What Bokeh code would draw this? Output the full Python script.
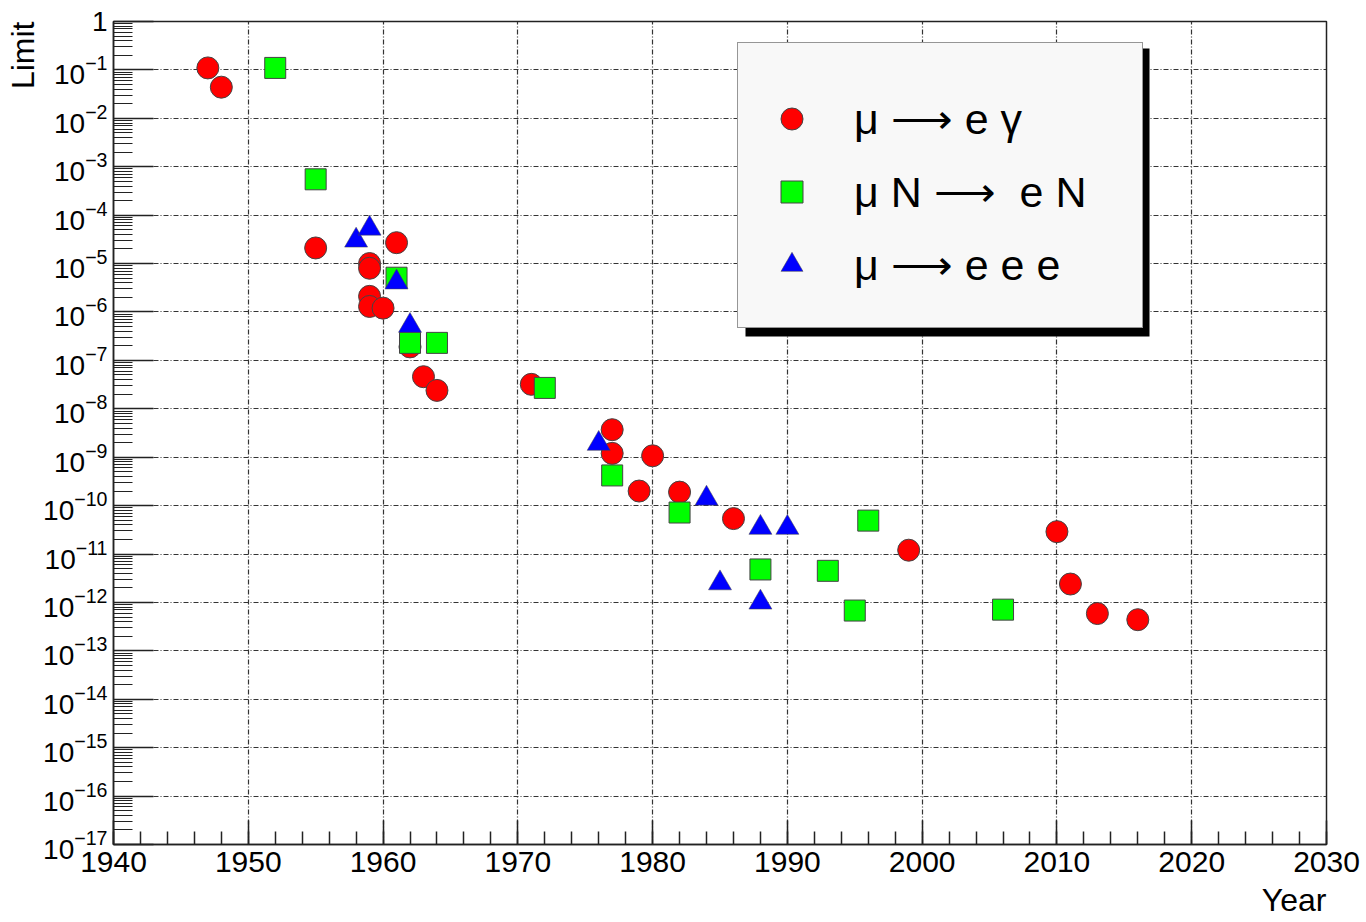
import math
from bokeh.plotting import figure
from bokeh.models import (Range1d, FixedTicker, Legend, LegendItem, Title,
                          BoxAnnotation)
from bokeh.embed import file_html
from bokeh.resources import INLINE

# ---------------- data ----------------
# mu -> e gamma
mueg_year = [1947, 1948, 1955, 1959, 1959, 1959, 1959, 1960, 1961, 1962,
             1963, 1964, 1971, 1977, 1977, 1979, 1980, 1982, 1986, 1999,
             2010, 2011, 2013, 2016]
mueg_limit = [1.1e-1, 4.4e-2, 2.1e-5, 1.0e-5, 8.0e-6, 2.1e-6, 1.3e-6, 1.2e-6,
              2.7e-5, 1.9e-7, 4.6e-8, 2.4e-8, 3.2e-8, 3.7e-9, 1.2e-9, 2.0e-10,
              1.07e-9, 1.9e-10, 5.4e-11, 1.2e-11, 2.9e-11, 2.4e-12, 5.9e-13,
              4.4e-13]

# mu N -> e N
munen_year = [1952, 1955, 1961, 1962, 1964, 1972, 1977, 1982, 1988, 1993,
              1995, 1996, 2006]
munen_limit = [1.1e-1, 5.5e-4, 5.1e-6, 2.3e-7, 2.3e-7, 2.7e-8, 4.2e-10,
               7.2e-11, 4.8e-12, 4.5e-12, 6.8e-13, 4.9e-11, 7.1e-13]

# mu -> e e e
mueee_year = [1958, 1959, 1961, 1962, 1976, 1984, 1985, 1988, 1990, 1988]
mueee_limit = [3.0e-5, 5.3e-5, 4.1e-6, 5.2e-7, 1.9e-9, 1.4e-10, 2.5e-12,
               3.5e-11, 3.5e-11, 1.0e-12]

series_labels = ["μ ⟶ e γ", "μ N ⟶  e N", "μ ⟶ e e e"]

x_ticks = list(range(1940, 2031, 10))
x_minor = list(range(1940, 2031, 2))
y_exps = list(range(0, 18))

# ---------------- layout constants ----------------
FONT = "Liberation Sans"
L, R, T, B = 113, 40, 21, 78
FW, FH = 1213, 823
X0, X1 = 1940, 2030
YLO, YHI = 1e-17, 1.0


def sx2x(dx):
    """screen offset from frame left -> data x"""
    return X0 + dx * (X1 - X0) / FW


def sy2y(dy):
    """screen offset from frame top -> data y (log axis)"""
    return 10 ** (math.log10(YHI) - dy * (math.log10(YHI) - math.log10(YLO)) / FH)


p = figure(frame_width=FW, frame_height=FH, x_range=Range1d(X0, X1),
           y_range=Range1d(YLO, YHI), y_axis_type="log", output_backend="svg",
           toolbar_location=None, min_border_left=L, min_border_right=R,
           min_border_top=T, min_border_bottom=B)
p.background_fill_color = "white"
p.border_fill_color = "white"
p.outline_line_color = "#222222"
p.outline_line_width = 1.5

# x axis
xa = p.xaxis[0]
xa.ticker = FixedTicker(ticks=x_ticks, minor_ticks=x_minor)
xa.major_tick_in = 24
xa.major_tick_out = 0
xa.minor_tick_in = 13
xa.minor_tick_out = 0
xa.major_label_text_font = FONT
xa.major_label_text_font_size = "30px"
xa.major_label_text_color = "black"
xa.major_label_standoff = 7
xa.axis_line_width = 1.5
xa.axis_line_color = "#222222"
xa.major_tick_line_color = "#222222"
xa.minor_tick_line_color = "#222222"
xa.major_tick_line_width = 1.5
xa.minor_tick_line_width = 1.5

# y axis
ya = p.yaxis[0]
ya.ticker = FixedTicker(ticks=[10.0 ** -k for k in y_exps],
                        minor_ticks=[m * 10.0 ** -k for k in y_exps[1:] for m in range(2, 10)])
ya.major_tick_in = 40
ya.major_tick_out = 0
ya.minor_tick_in = 19
ya.minor_tick_out = 0
ya.major_label_text_font = FONT
ya.major_label_text_font_size = "28px"
ya.major_label_text_color = "black"
ya.major_label_standoff = 6
ya.major_label_overrides = {1: "1"}
ya.axis_line_width = 1.5
ya.axis_line_color = "#222222"
ya.major_tick_line_color = "#222222"
ya.minor_tick_line_color = "#222222"
ya.major_tick_line_width = 1.5
ya.minor_tick_line_width = 1.2

for g in (p.xgrid[0], p.ygrid[0]):
    g.grid_line_color = "#333333"
    g.grid_line_width = 1.2
    g.grid_line_dash = "5 2 1 2"

r1 = p.scatter(mueg_year, mueg_limit, marker="circle", size=22,
               fill_color="#ff0000", line_color="#444444", line_width=1)
r2 = p.scatter(munen_year, munen_limit, marker="square", size=21,
               fill_color="#00ff00", line_color="#444444", line_width=1)
r3 = p.scatter(mueee_year, mueee_limit, marker="triangle", size=23,
               fill_color="#0000ff", line_color="#444444", line_width=0.5)

# legend box (screen offsets from the frame's top-left corner)
LG_L, LG_T, LG_W, LG_H = 624, 19, 404, 288
SHADOW = 8
shadow = BoxAnnotation(left=sx2x(LG_L + SHADOW), right=sx2x(LG_L + LG_W + SHADOW),
                       top=sy2y(LG_T + SHADOW), bottom=sy2y(LG_T + LG_H + SHADOW),
                       fill_color="black", fill_alpha=1.0, line_color=None)
p.add_layout(shadow)

legend = Legend(items=[LegendItem(label=series_labels[0], renderers=[r1]),
                       LegendItem(label=series_labels[1], renderers=[r2]),
                       LegendItem(label=series_labels[2], renderers=[r3])],
                location=(LG_L, FH - (LG_T + LG_H)), orientation="vertical",
                title=" ", title_text_font_size="8px", title_standoff=4,
                padding=26, spacing=0, margin=0, label_height=73,
                glyph_width=55, glyph_height=55, label_standoff=35,
                label_width=LG_W - 2 * 26 - 55 - 35, label_text_font=FONT,
                label_text_font_size="43px", label_text_color="black",
                label_text_baseline="alphabetic",
                background_fill_color="#f8f8f8", background_fill_alpha=1.0,
                border_line_color="#333333", border_line_width=1.5)
p.add_layout(legend)

t_y = Title(text="Limit", align="right", text_font=FONT, text_font_size="32px",
            text_font_style="normal", text_color="black", standoff=0, offset=0)
t_x = Title(text="Year", align="right", text_font=FONT, text_font_size="32px",
            text_font_style="normal", text_color="black", standoff=10, offset=0)
p.add_layout(t_y, "left")
p.add_layout(t_x, "below")

open("out.html", "w").write(file_html(p, INLINE))
